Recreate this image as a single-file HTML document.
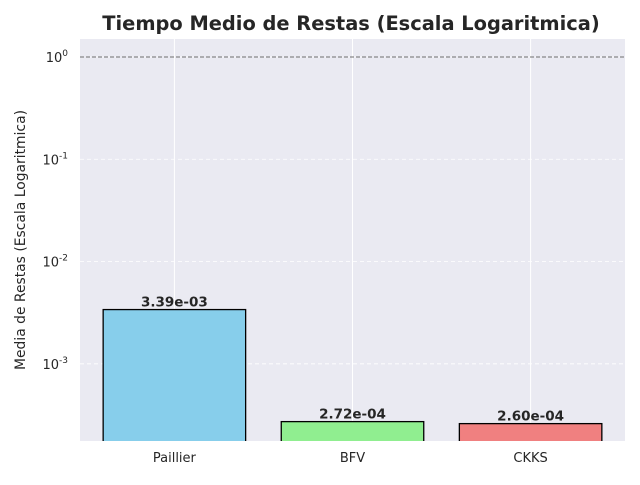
<!DOCTYPE html>
<html><head><meta charset="utf-8"><style>
body{margin:0;background:#fff;}
svg text{font-family:"DejaVu Sans","Liberation Sans",sans-serif;fill:#262626;}
</style></head><body>
<svg id="chart" width="640" height="480" viewBox="0 0 640 480">
<rect x="0" y="0" width="640" height="480" fill="#fff"/>
<text x="351" y="30" text-anchor="middle" font-size="19.4" font-weight="bold">Tiempo Medio de Restas (Escala Logaritmica)</text>
<text transform="translate(25,240) rotate(-90)" text-anchor="middle" font-size="13.9">Media de Restas (Escala Logaritmica)</text>
<g id="plot"></g>
</svg>
<script>
const categories=["Paillier","BFV","CKKS"];
const values=[3.39e-3,2.72e-4,2.60e-4];
const valueLabels=["3.39e-03","2.72e-04","2.60e-04"];
const colors=["#87ceeb","#90ee90","#f08080"];
const yTickExps=[-3,-2,-1,0];
const refLine=1;
const L=80,R=625,T=39,B=441;
const xMin=-0.53,xMax=2.53,lMin=-3.755,lMax=0.176;
function xs(v){return L+(v-xMin)/(xMax-xMin)*(R-L);}
function ys(v){return B-(Math.log10(v)-lMin)/(lMax-lMin)*(B-T);}
const NS="http://www.w3.org/2000/svg";
const g=document.getElementById('plot');
function mk(t,a){const e=document.createElementNS(NS,t);for(const k in a)e.setAttribute(k,a[k]);g.appendChild(e);return e;}
const bg=mk('rect',{x:L,y:T,width:R-L,height:B-T,fill:'#eaeaf2'});


yTickExps.forEach(e=>{
  const y=ys(Math.pow(10,e));
  const gl=mk('line',{x1:L,x2:R,y1:y,y2:y,stroke:'#fff','stroke-dasharray':'4,3','stroke-width':0.8});
  
  
  const t=mk('text',{x:L-12,y:y+5,'text-anchor':'end','font-size':13});
  
  
  t.textContent='10';
  const s=document.createElementNS(NS,'tspan');s.setAttribute('dy','-6');s.setAttribute('font-size','9');s.textContent=String(e);t.appendChild(s);
});
categories.forEach((c,i)=>{
  const x=xs(i);
  const gl=mk('line',{x1:x,x2:x,y1:T,y2:B,stroke:'#fff','stroke-width':1});
  
  
});
const ry=ys(refLine);
const rl=mk('line',{x1:L,x2:R,y1:ry,y2:ry,stroke:'#6e6e6e','stroke-dasharray':'4,2','stroke-width':1});


categories.forEach((c,i)=>{
  const x0=xs(i-0.4),x1=xs(i+0.4),y=ys(values[i]);
  const b=mk('rect',{x:x0,y:y,width:x1-x0,height:B-y+2,fill:colors[i],stroke:'#000','stroke-width':1.3});
  
  
  const t=mk('text',{x:xs(i),y:y-3,'text-anchor':'middle','font-size':13.5,'font-weight':'bold'});
  
  
  t.textContent=valueLabels[i];
  const xl=mk('text',{x:xs(i),y:B+21,'text-anchor':'middle','font-size':13});
  
  
  xl.textContent=c;
});
const cover=mk('rect',{x:L,y:B,width:R-L,height:5,fill:'#fff'});


</script>
</body></html>
